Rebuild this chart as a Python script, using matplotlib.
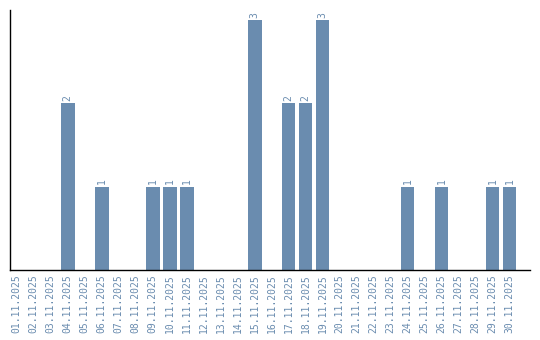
"""Daily counts for November 2025 as a bar chart."""

import matplotlib
matplotlib.use("Agg")
import matplotlib.pyplot as plt

DAYS = [f"{d:02d}.11.2025" for d in range(1, 31)]
COUNTS = [0, 0, 0, 2, 0, 1, 0, 0, 1, 1,
          1, 0, 0, 0, 3, 0, 2, 2, 3, 0,
          0, 0, 0, 1, 0, 1, 0, 0, 1, 1]

BAR_COLOR = "#6a8caf"
TEXT_COLOR = "#6a8caf"

fig = plt.figure(figsize=(5.4, 3.4), dpi=100)
ax = fig.add_axes([10 / 540, 70 / 340, 520 / 540, 260 / 340])

x = list(range(len(DAYS)))
bars = ax.bar(x, COUNTS, width=0.8, color=BAR_COLOR)
for xi, val in zip(x, COUNTS):
    if val > 0:
        ax.text(xi, val + 0.03, str(val), rotation=90, ha="center", va="bottom",
                fontsize=7, color=TEXT_COLOR, family="DejaVu Sans Mono")

ax.set_xlim(-0.4, 30.2)
ax.set_ylim(0, 3.12)
ax.set_xticks(x)
ax.set_xticklabels(DAYS, rotation=90, fontsize=7, color=TEXT_COLOR, family="DejaVu Sans Mono")
ax.tick_params(axis="x", length=0, pad=3)
ax.set_yticks([])
for side in ("top", "right"):
    ax.spines[side].set_visible(False)
for side in ("left", "bottom"):
    ax.spines[side].set_color("black")
    ax.spines[side].set_linewidth(1)

fig.savefig("out.png", dpi=100)
